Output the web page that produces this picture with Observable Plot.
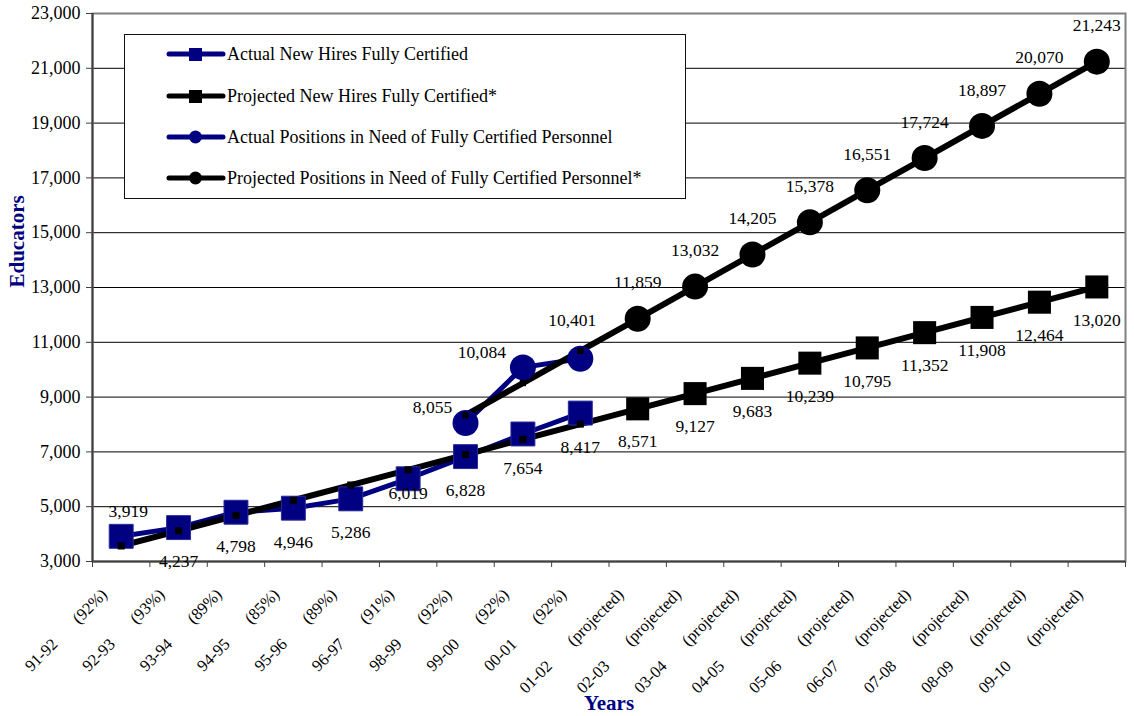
<!DOCTYPE html>
<html><head><meta charset="utf-8">
<script src="https://cdn.jsdelivr.net/npm/d3@7"></script>
<script src="https://cdn.jsdelivr.net/npm/@observablehq/plot@0.6"></script>
<style>
body{margin:0;background:#fff;}
#wrap{position:relative;width:1134px;height:716px;font-family:"Liberation Serif","Times New Roman",serif;}
#legend{position:absolute;left:124px;top:34px;width:562px;height:165px;border:1px solid #111;background:#fff;box-sizing:border-box;}
.row{position:absolute;left:41px;height:24px;display:flex;align-items:center;font-size:18px;white-space:nowrap;color:#000;}
.row svg{display:block;}
.row span{margin-left:1px;}
</style></head><body><div id="wrap"></div>
<script>
const years = ["91-92","92-93","93-94","94-95","95-96","96-97","98-99","99-00","00-01","01-02","02-03","03-04","04-05","05-06","06-07","07-08","08-09","09-10"];
const notes = ["(92%)","(93%)","(89%)","(85%)","(89%)","(91%)","(92%)","(92%)","(92%)","(projected)","(projected)","(projected)","(projected)","(projected)","(projected)","(projected)","(projected)","(projected)"];
const actualHires = [3919,4237,4798,4946,5286,6019,6828,7654,8417];
const projectedHires = [3567,4123,4679,5235,5791,6347,6903,7459,8015,8571,9127,9683,10239,10795,11352,11908,12464,13020];
const actualPositions = [null,null,null,null,null,null,8055,10084,10401];
const projectedPositions = [null,null,null,null,null,null,8340,9513,10686,11859,13032,14205,15378,16551,17724,18897,20070,21243];
const yTicks = [3000,5000,7000,9000,11000,13000,15000,17000,19000,21000,23000];
const seriesNames = ["Actual New Hires Fully Certified","Projected New Hires Fully Certified*","Actual Positions in Need of Fully Certified Personnel","Projected Positions in Need of Fully Certified Personnel*"];

const NAVY = "#000080";
const FONT = "Liberation Serif, Times New Roman, serif";
const toRows = arr => arr.map((v, i) => ({i, x: i + 0.5, v})).filter(d => d.v != null);
const aH = toRows(actualHires), pH = toRows(projectedHires), aP = toRows(actualPositions), pP = toRows(projectedPositions);
const fmt = d3.format(",");
const firstProjected = notes.indexOf("(projected)");
const GAP = "\u00a0".repeat(7);
const cats = years.map((y, i) => ({x: i + 0.5, label: y + GAP + notes[i]}));

function lbl(data, filter, dx, dy) {
  return Plot.text(data, {filter, x: "x", y: "v", text: d => fmt(d.v), dx, dy, fontSize: 17.5, fontFamily: FONT, fill: "#000"});
}

const chart = Plot.plot({
  width: 1134, height: 716,
  marginLeft: 92, marginRight: 9, marginTop: 13, marginBottom: 155,
  style: {fontFamily: FONT, fontSize: "18px", background: "#fff", color: "#000"},
  x: {type: "linear", domain: [0, years.length], axis: null},
  y: {domain: [3000, 23000], axis: null},
  marks: [
    Plot.ruleY(yTicks.slice(1, -1), {stroke: "#000", strokeWidth: 1}),
    Plot.frame({stroke: "#808080", strokeWidth: 2}),
    Plot.ruleX([0], {stroke: "#404040", strokeWidth: 2}),
    Plot.ruleY([3000], {stroke: "#404040", strokeWidth: 2}),
    Plot.axisY({ticks: yTicks, tickFormat: fmt, tickSize: 6, tickPadding: 6, fontSize: 18, fontFamily: FONT, label: null, stroke: "#404040"}),
    Plot.axisX({ticks: d3.range(0, years.length + 1), tickFormat: () => "", tickSize: 6, label: null, stroke: "#404040"}),
    Plot.text(cats, {x: "x", frameAnchor: "bottom", text: "label", rotate: -45, textAnchor: "end", dx: -13, dy: 34, fontSize: 16.5, fontFamily: FONT, fill: "#000"}),
    // lines
    Plot.line(aH, {x: "x", y: "v", stroke: NAVY, strokeWidth: 5, strokeLinejoin: "round"}),
    Plot.line(aP, {x: "x", y: "v", stroke: NAVY, strokeWidth: 5, strokeLinejoin: "round"}),
    Plot.line(pH, {x: "x", y: "v", stroke: "#000", strokeWidth: 6, strokeLinejoin: "round"}),
    Plot.line(pP, {x: "x", y: "v", stroke: "#000", strokeWidth: 6, strokeLinejoin: "round"}),
    // markers
    Plot.dot(aH, {x: "x", y: "v", symbol: "square", r: 13.5, fill: NAVY, stroke: "#2a2a99", strokeWidth: 1}),
    Plot.dot(aP, {x: "x", y: "v", symbol: "circle", r: 13, fill: NAVY}),
    Plot.dot(pH, {filter: d => d.i >= firstProjected, x: "x", y: "v", symbol: "square", r: 13, fill: "#000"}),
    Plot.dot(pP, {filter: d => d.i >= firstProjected, x: "x", y: "v", symbol: "circle", r: 13, fill: "#000"}),
    Plot.dot(pH, {filter: d => d.i < firstProjected, x: "x", y: "v", symbol: "square", r: 4, fill: "#000"}),
    Plot.dot(pP, {filter: d => d.i < firstProjected, x: "x", y: "v", symbol: "square", r: 3.5, fill: "#000"}),
    // labels
    lbl(aH, d => d.i === 0, 7, -25),
    lbl(aH, d => d.i === 5, 0, 15),
    lbl(aH, d => d.i !== 0 && d.i !== 5, 0, 34),
    lbl(pH, d => d.i >= firstProjected, 0, 33),
    lbl(pP, d => d.i >= firstProjected, 0, -36),
    lbl(aP, d => d.i === 6, -33, -16),
    lbl(aP, d => d.i === 7, -41, -15),
    lbl(aP, d => d.i === 8, -8, -38),
    // titles
    Plot.text(["Educators"], {frameAnchor: "left", rotate: -90, dx: -75, text: d => d, fontSize: 21, fontWeight: "bold", fill: NAVY, fontFamily: FONT}),
    Plot.text(["Years"], {frameAnchor: "bottom", dy: 148, text: d => d, fontSize: 21, fontWeight: "bold", fill: NAVY, fontFamily: FONT})
  ]
});
const wrap = document.getElementById("wrap");
wrap.appendChild(chart);

// legend
const legend = document.createElement("div");
legend.id = "legend";
const legendStyles = [
  {color: NAVY, symbol: "square"},
  {color: "#000", symbol: "square"},
  {color: NAVY, symbol: "circle"},
  {color: "#000", symbol: "circle"}
];
const rowTops = [7, 49, 90, 131];
seriesNames.forEach((name, k) => {
  const st = legendStyles[k];
  const row = document.createElement("div");
  row.className = "row";
  row.style.top = rowTops[k] + "px";
  const mk = st.symbol === "square"
    ? `<rect x="23" y="6" width="13" height="13" fill="${st.color}"/>`
    : `<circle cx="29.5" cy="12" r="6.5" fill="${st.color}"/>`;
  row.innerHTML = `<svg width="60" height="24"><line x1="3" y1="12" x2="57" y2="12" stroke="${st.color}" stroke-width="5" stroke-linecap="round"/>${mk}</svg><span>${name}</span>`;
  legend.appendChild(row);
});
wrap.appendChild(legend);
</script></body></html>
